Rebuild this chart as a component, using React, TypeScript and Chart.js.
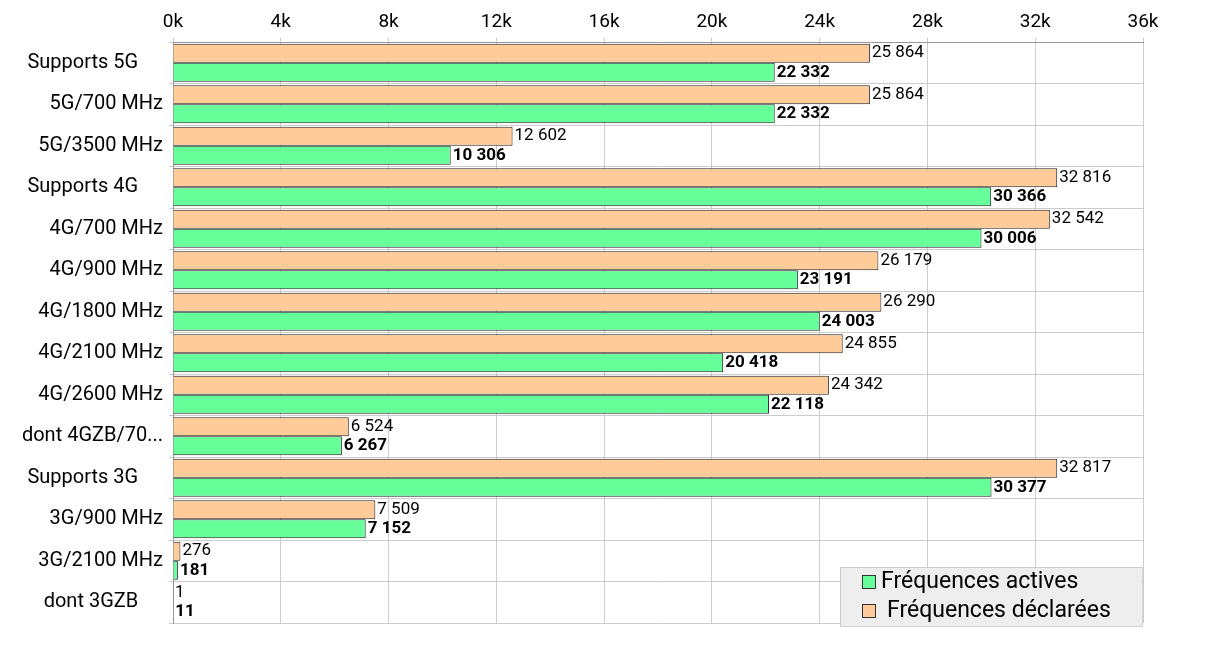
import { useEffect, useRef } from 'react';
import { Chart, registerables, type Plugin } from 'chart.js';

Chart.register(...registerables);

const CATEGORIES = [
  'Supports 5G     ', '5G/700 MHz', '5G/3500 MHz', 'Supports 4G     ', '4G/700 MHz',
  '4G/900 MHz', '4G/1800 MHz', '4G/2100 MHz', '4G/2600 MHz', 'dont 4GZB/70...',
  'Supports 3G     ', '3G/900 MHz', '3G/2100 MHz', 'dont 3GZB     ',
];
const DECLARED = [25864, 25864, 12602, 32816, 32542, 26179, 26290, 24855, 24342, 6524, 32817, 7509, 276, 1];
const ACTIVE = [22332, 22332, 10306, 30366, 30006, 23191, 24003, 20418, 22118, 6267, 30377, 7152, 181, 11];

const GREEN = '#66ff99';
const ORANGE = '#ffcc99';
const FONT = 'Roboto';

const fmt = (v: number) => v.toString().replace(/\B(?=(\d{3})+(?!\d))/g, ' ');

const valueLabels: Plugin<'bar'> = {
  id: 'valueLabels',
  afterDatasetsDraw(chart) {
    const ctx = chart.ctx;
    ctx.save();
    ctx.fillStyle = '#000';
    ctx.textBaseline = 'middle';
    chart.data.datasets.forEach((ds, di) => {
      const meta = chart.getDatasetMeta(di);
      ctx.font = `${di === 1 ? 'bold ' : ''}17px ${FONT}`;
      meta.data.forEach((el: any, i) => {
        ctx.fillText(fmt(ds.data[i] as number), el.x + 2, el.y);
      });
    });
    ctx.restore();
  },
};

const legendBox: Plugin<'bar'> = {
  id: 'legendBox',
  afterDraw(chart) {
    const ctx = chart.ctx;
    const x = 840, y = 567, w = 302, h = 59;
    ctx.save();
    ctx.fillStyle = '#eeeeee';
    ctx.fillRect(x, y, w, h);
    ctx.setLineDash([1, 1]);
    ctx.strokeStyle = '#aaaaaa';
    ctx.strokeRect(x + 0.5, y + 0.5, w, h);
    ctx.setLineDash([]);
    const items = [
      { c: GREEN, t: 'Fréquences actives', tx: 881 },
      { c: ORANGE, t: 'Fréquences déclarées', tx: 887 },
    ];
    ctx.font = `23px ${FONT}`;
    ctx.textBaseline = 'middle';
    items.forEach((it, i) => {
      const cy = y + 15 + i * 29;
      ctx.fillStyle = it.c;
      ctx.fillRect(862, cy - 7, 14, 14);
      ctx.strokeStyle = '#333';
      ctx.strokeRect(862.5, cy - 6.5, 13, 13);
      ctx.fillStyle = '#000';
      ctx.fillText(it.t, it.tx, cy);
    });
    ctx.restore();
  },
};

export default function App() {
  const canvasRef = useRef<HTMLCanvasElement | null>(null);

  useEffect(() => {
    document.body.style.margin = '0';
    const canvas = canvasRef.current;
    if (!canvas) return;
    const chart = new Chart(canvas, {
      type: 'bar',
      data: {
        labels: CATEGORIES,
        datasets: [
          { label: 'Fréquences déclarées', data: DECLARED, backgroundColor: ORANGE, borderColor: '#222', borderWidth: 1, barPercentage: 1, categoryPercentage: 0.92 },
          { label: 'Fréquences actives', data: ACTIVE, backgroundColor: GREEN, borderColor: '#222', borderWidth: 1, barPercentage: 1, categoryPercentage: 0.92 },
        ],
      },
      options: {
        indexAxis: 'y',
        responsive: false,
        animation: false,
        layout: { padding: { left: 0, right: 70, top: 0, bottom: 26 } },
        plugins: { legend: { display: false }, tooltip: { enabled: false } },
        scales: {
          x: {
            position: 'top',
            min: 0,
            max: 36000,
            ticks: {
              stepSize: 4000,
              color: '#000',
              font: { family: FONT, size: 19 },
              callback: (v) => `${Number(v) / 1000}k`,
              padding: 4,
            },
            grid: { color: '#cccccc', tickLength: 4 },
            border: { color: '#999' },
            afterFit: (s) => { s.height = 42; },
          },
          y: {
            ticks: { color: '#000', font: { family: FONT, size: 20 }, padding: 6 },
            grid: { color: '#cccccc', offset: true, tickLength: 4 },
            border: { color: '#999' },
            afterFit: (s) => { s.width = 173; },
          },
        },
      },
      plugins: [valueLabels, legendBox],
    });
    return () => chart.destroy();
  }, []);

  return <canvas ref={canvasRef} width={1213} height={649} style={{ display: 'block' }} />;
}
